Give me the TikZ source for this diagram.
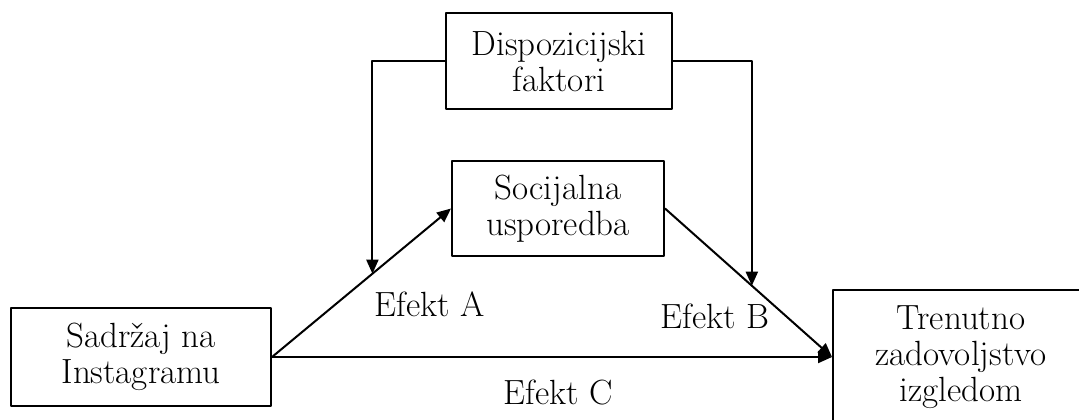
\documentclass[tikz,border=0pt]{standalone}
\usepackage{fontspec}
\usetikzlibrary{arrows.meta}

\begin{document}
\begin{tikzpicture}[
  x=0.5pt, y=-0.5pt,
  line cap=round, line join=round,
  every node/.style={font=\fontsize{17.5}{18}\selectfont, inner sep=1.5pt},
  box/.style={draw=black, line width=1pt, align=center, inner sep=0pt},
  arr/.style={draw=black, line width=1pt, -{Triangle[length=7pt, width=6pt]}},
]
\useasboundingbox (0,0) rectangle (1079,419);
\clip (0,0) rectangle (1079,419);
\node[box, minimum width=113pt, minimum height=48pt] (disp) at (559,61) {Dispozicijski\\faktori};
\node[box, minimum width=106pt, minimum height=47.5pt] (soc) at (558,208.5) {Socijalna\\usporedba};
\node[box, minimum width=130pt, minimum height=49pt] (sad) at (141,357) {Sadržaj na\\Instagramu};
\node[box, minimum width=128pt, minimum height=67pt] (tre) at (961,357) {Trenutno\\zadovoljstvo\\izgledom};
\draw[arr] (sad.east) -- coordinate[pos=0.561] (ma) (soc.west);
\draw[arr] (soc.east) -- coordinate[pos=0.52] (mb) (tre.west);
\draw[arr] (sad.east) -- (tre.west);
\draw[arr] (disp.west) -| (ma);
\draw[arr] (disp.east) -| (mb);
\node (efa) at (430,304) {Efekt A};
\node (efb) at (715,316) {Efekt B};
\node (efc) at (558,392) {Efekt C};
\end{tikzpicture}
\end{document}
